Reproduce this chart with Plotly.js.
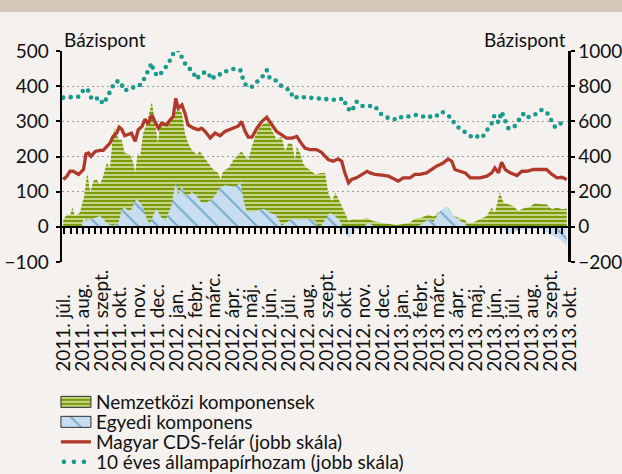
<!DOCTYPE html>
<html><head><meta charset="utf-8">
<script src="https://cdn.plot.ly/plotly-3.0.1.min.js"></script>
<style>
body{margin:0;background:#f4f1ee;}
#chart{width:622px;height:474px;}
#band{position:absolute;left:0;top:0;width:622px;height:12px;background:#d4c8ba;}
</style>
</head><body>
<div id="chart"></div><div id="band"></div>
<script>
// x values: days since 2011-07-01
const monthStarts = [0,31,62,92,123,153,184,215,244,275,305,336,366,397,428,458,489,519,550,581,609,640,670,701,731,762,793,823];
const monthLabels = ['2011. júl.','2011. aug.','2011. szept.','2011. okt.','2011. nov.','2011. dec.','2012. jan.','2012. febr.','2012. márc.','2012. ápr.','2012. máj.','2012. jún.','2012. júl.','2012. aug.','2012. szept.','2012. okt.','2012. nov.','2012. dec.','2013. jan.','2013. febr.','2013. márc.','2013. ápr.','2013. máj.','2013. jún.','2013. júl.','2013. aug.','2013. szept.','2013. okt.'];

// Nemzetközi komponensek (left scale)
const greenDay = [2,8,13,17,21,29,36,41,46,51,56,62,67,73,78,83,86,92,97,102,111,116,119,123,127,132,138,143,146,151,156,159,165,173,178,184,189,195,200,205,211,219,224,230,238,246,254,258,262,271,279,284,292,298,303,309,314,322,330,336,341,349,357,363,368,374,379,382,387,393,398,406,412,420,428,433,439,444,449,455,460,466,474,485,496,504,517,534,544,555,566,574,585,596,604,612,620,628,637,645,653,661,669,680,691,699,704,712,718,726,734,742,750,761,769,778,788,797,805,813,821];
const greenVal = [20,36,33,55,31,40,88,153,99,130,135,121,144,182,168,262,281,248,248,210,205,182,153,210,200,266,295,332,356,304,238,285,290,295,314,323,337,323,266,238,219,205,215,200,182,163,153,135,158,168,191,200,215,200,191,229,257,285,295,299,276,248,257,215,238,238,191,229,210,177,168,158,149,153,153,97,73,97,83,59,40,17,22,20,26,17,12,8,5,8,12,24,26,36,29,40,50,55,31,26,22,10,12,22,31,55,40,99,69,64,59,45,52,57,67,64,64,50,55,50,52];

// Egyedi komponens (left scale)
const blueDay = [2,18,32,35,39,46,54,62,70,75,83,92,97,102,108,113,121,127,132,138,143,150,154,162,168,173,178,185,189,195,200,205,211,219,227,235,243,252,257,265,273,279,287,290,295,300,311,322,330,338,346,352,357,365,375,384,393,401,412,417,425,436,444,452,460,466,471,479,490,498,506,517,528,539,550,558,566,574,585,596,604,615,626,634,642,653,664,675,685,696,707,718,726,734,745,756,767,778,788,799,810,821];
const blueVal = [0,3,0,26,17,22,26,31,17,8,3,12,50,55,45,50,80,69,55,22,8,40,50,26,17,40,59,130,92,116,92,88,99,88,69,69,78,97,111,118,116,111,121,130,78,45,42,50,50,40,36,22,3,12,24,20,20,22,17,-7,12,40,31,17,-16,-30,-21,-7,-2,12,3,-7,-3,-2,-3,3,-3,-2,8,22,14,45,59,40,22,12,-7,-7,-2,3,-2,-7,-21,-16,-8,-7,-5,-7,-16,-25,-35,-54];

// Magyar CDS-felár (right scale)
const cdsDay = [2,8,13,18,27,35,39,43,47,54,62,67,73,78,83,89,93,97,102,108,113,119,124,130,135,140,146,151,157,162,170,176,181,185,189,195,200,205,214,222,227,233,241,249,257,265,273,279,287,292,298,303,309,317,325,333,341,349,357,365,374,382,387,395,403,414,422,433,441,449,455,460,466,471,479,487,496,501,509,520,531,542,547,555,566,574,582,593,601,609,620,628,634,639,647,656,664,672,680,691,699,704,710,715,721,729,740,748,756,767,778,788,797,805,813,821];
const cdsVal = [269,288,316,316,298,326,416,420,401,429,435,435,458,476,514,533,567,556,518,524,533,486,552,571,612,586,637,599,561,589,580,608,627,731,674,693,646,580,561,552,561,542,505,533,518,542,552,561,574,599,542,510,510,561,599,623,580,542,524,505,505,514,486,448,439,439,424,382,373,386,373,307,250,269,279,298,316,307,298,294,288,269,260,279,279,298,298,307,326,345,363,386,373,326,316,307,279,279,279,288,307,335,307,367,326,307,292,316,316,326,326,326,298,279,282,269];

// 10 éves állampapírhozam (right scale)
const yieldDay = [2,16,27,35,41,48,54,59,67,74,81,86,94,102,113,121,130,138,146,149,157,165,173,181,187,189,195,203,211,219,224,233,238,243,252,260,268,276,281,290,295,300,309,317,325,333,338,346,355,363,371,376,384,398,412,422,436,447,458,463,471,479,487,498,509,517,525,534,542,547,555,566,577,588,596,604,609,618,626,634,639,650,658,669,675,683,688,693,699,703,710,715,721,726,734,742,750,756,764,772,780,788,797,802,810,821];
const yieldVal = [735,740,740,778,787,730,721,736,699,740,797,825,829,774,793,793,815,868,932,881,857,891,928,985,1056,1004,957,910,891,840,862,881,876,838,868,866,887,895,900,891,834,800,797,825,849,891,844,838,806,787,778,731,740,736,731,731,725,721,731,680,655,712,687,684,687,646,631,612,612,627,621,631,637,627,621,637,631,655,637,618,580,552,533,505,514,505,533,561,589,631,593,655,608,561,561,599,642,618,637,642,665,655,604,567,589,571];

const seriesNames = ['Nemzetközi komponensek','Egyedi komponens','Magyar CDS-felár (jobb skála)','10 éves állampapírhozam (jobb skála)'];

const FONT = 'Lato, "Open Sans", sans-serif';
const GREEN = '#7a9c0a', GREEN_BG = '#cddb93';
const BLUE = '#6ea5c9', BLUE_BG = '#c8def0';
const RED = '#b0392b', TEAL = '#1a9a8d';

const traces = [
  {x: greenDay, y: greenVal, type:'scatter', mode:'lines', fill:'tozeroy', name: seriesNames[0],
   line:{width:0, color:GREEN}, fillcolor:GREEN_BG,
   fillpattern:{shape:'-', fgcolor:GREEN, bgcolor:GREEN_BG, size:4, solidity:0.55, fillmode:'replace'},
   legend:'legend', hoverinfo:'skip'},
  {x: blueDay, y: blueVal, type:'scatter', mode:'lines', fill:'tozeroy', name: seriesNames[1],
   line:{width:0, color:BLUE}, fillcolor:BLUE_BG, xaxis:'x2',
   fillpattern:{shape:'\\', fgcolor:BLUE, bgcolor:BLUE_BG, size:14, solidity:0.13, fillmode:'replace'},
   legend:'legend2', hoverinfo:'skip'},
  {x: cdsDay, y: cdsVal, type:'scatter', mode:'lines', name: seriesNames[2], yaxis:'y2',
   line:{color:RED, width:3.3}, legend:'legend3', hoverinfo:'skip'},
  {x: yieldDay, y: yieldVal, type:'scatter', mode:'lines', name: seriesNames[3], yaxis:'y2',
   line:{color:TEAL, width:4.6, dash:'0px,7.5px'}, legend:'legend4', hoverinfo:'skip'}
];

const tickFont = {family:FONT, size:19, color:'#111'};
function leg(y){
  return {x:-0.012, xanchor:'left', y:y, yanchor:'middle', bgcolor:'rgba(0,0,0,0)', borderwidth:0,
          font:{family:FONT, size:19, color:'#111'}, itemwidth:30};
}

const layout = {
  width:622, height:474,
  margin:{l:62, r:54, t:51, b:212, autoexpand:false},
  paper_bgcolor:'#f4f1ee', plot_bgcolor:'#f4f1ee',
  showlegend:true,
  xaxis:{range:[0,823], tickvals:monthStarts, ticktext:monthLabels, tickangle:-90,
         ticks:'', showline:false, showgrid:false, zeroline:false, tickfont:tickFont, fixedrange:true},
  xaxis2:{range:[0,823], overlaying:'x', anchor:'free', position:1/6, side:'bottom',
          tick0:4, dtick:10, ticks:'outside', ticklen:6, tickwidth:2, tickcolor:'#000',
          showticklabels:false, showline:true, linecolor:'#000', linewidth:2.5, showgrid:false, zeroline:false},
  yaxis:{range:[-100,500], dtick:100, ticks:'outside', ticklen:4, tickwidth:2, tickcolor:'#000',
         showline:true, linecolor:'#000', linewidth:2.5, showgrid:true, gridcolor:'#9a9a9a', gridwidth:1.2,
         griddash:'2px,3px', zeroline:false, tickfont:tickFont, ticklabelstandoff:3},
  yaxis2:{range:[-200,1000], dtick:200, overlaying:'y', side:'right', ticks:'outside', ticklen:4, tickwidth:2,
          tickcolor:'#000', showline:true, linecolor:'#000', linewidth:2.5, showgrid:false, zeroline:false,
          tickfont:tickFont},
  legend: leg(-0.6635), legend2: leg(-0.7583), legend3: leg(-0.8531), legend4: leg(-0.9479),
  annotations:[
    {text:'Bázispont', xref:'paper', yref:'paper', x:0, y:1, xanchor:'left', yanchor:'bottom', showarrow:false, font:tickFont, yshift:-2},
    {text:'Bázispont', xref:'paper', yref:'paper', x:1, y:1, xanchor:'right', yanchor:'bottom', showarrow:false, font:tickFont, yshift:-2}
  ]
};

Plotly.newPlot('chart', traces, layout, {staticPlot:true, displayModeBar:false}).then(function(){
  const teal = 'rgb(26, 154, 141)';
  document.querySelectorAll('path.js-line').forEach(function(p){
    if (p.style.stroke === teal) p.style.strokeLinecap = 'round';
  });
  document.querySelectorAll('.legendlines path').forEach(function(p){
    if (p.style.stroke === teal) { p.style.strokeLinecap = 'round'; p.style.strokeDasharray = '0px,10px'; p.setAttribute('d','M8,0h24'); }
  });
  document.querySelectorAll('.legendfill path').forEach(function(p){
    p.setAttribute('d','M5,-5.5h30v11h-30z');
    p.style.stroke = '#333'; p.style.strokeWidth = '1px';
  });
  // bottom-align the rotated month labels (the year part lines up, as in the original)
  const labels = Array.from(document.querySelectorAll('g.xtick text'));
  const lens = labels.map(function(t){ return t.getComputedTextLength(); });
  const maxLen = Math.max.apply(null, lens);
  labels.forEach(function(t, i){
    const g = t.parentNode;
    const shift = maxLen - lens[i] + 3;
    g.setAttribute('transform', 'translate(1.5,' + shift + ') ' + (g.getAttribute('transform') || ''));
  });
});
</script>
</body></html>
